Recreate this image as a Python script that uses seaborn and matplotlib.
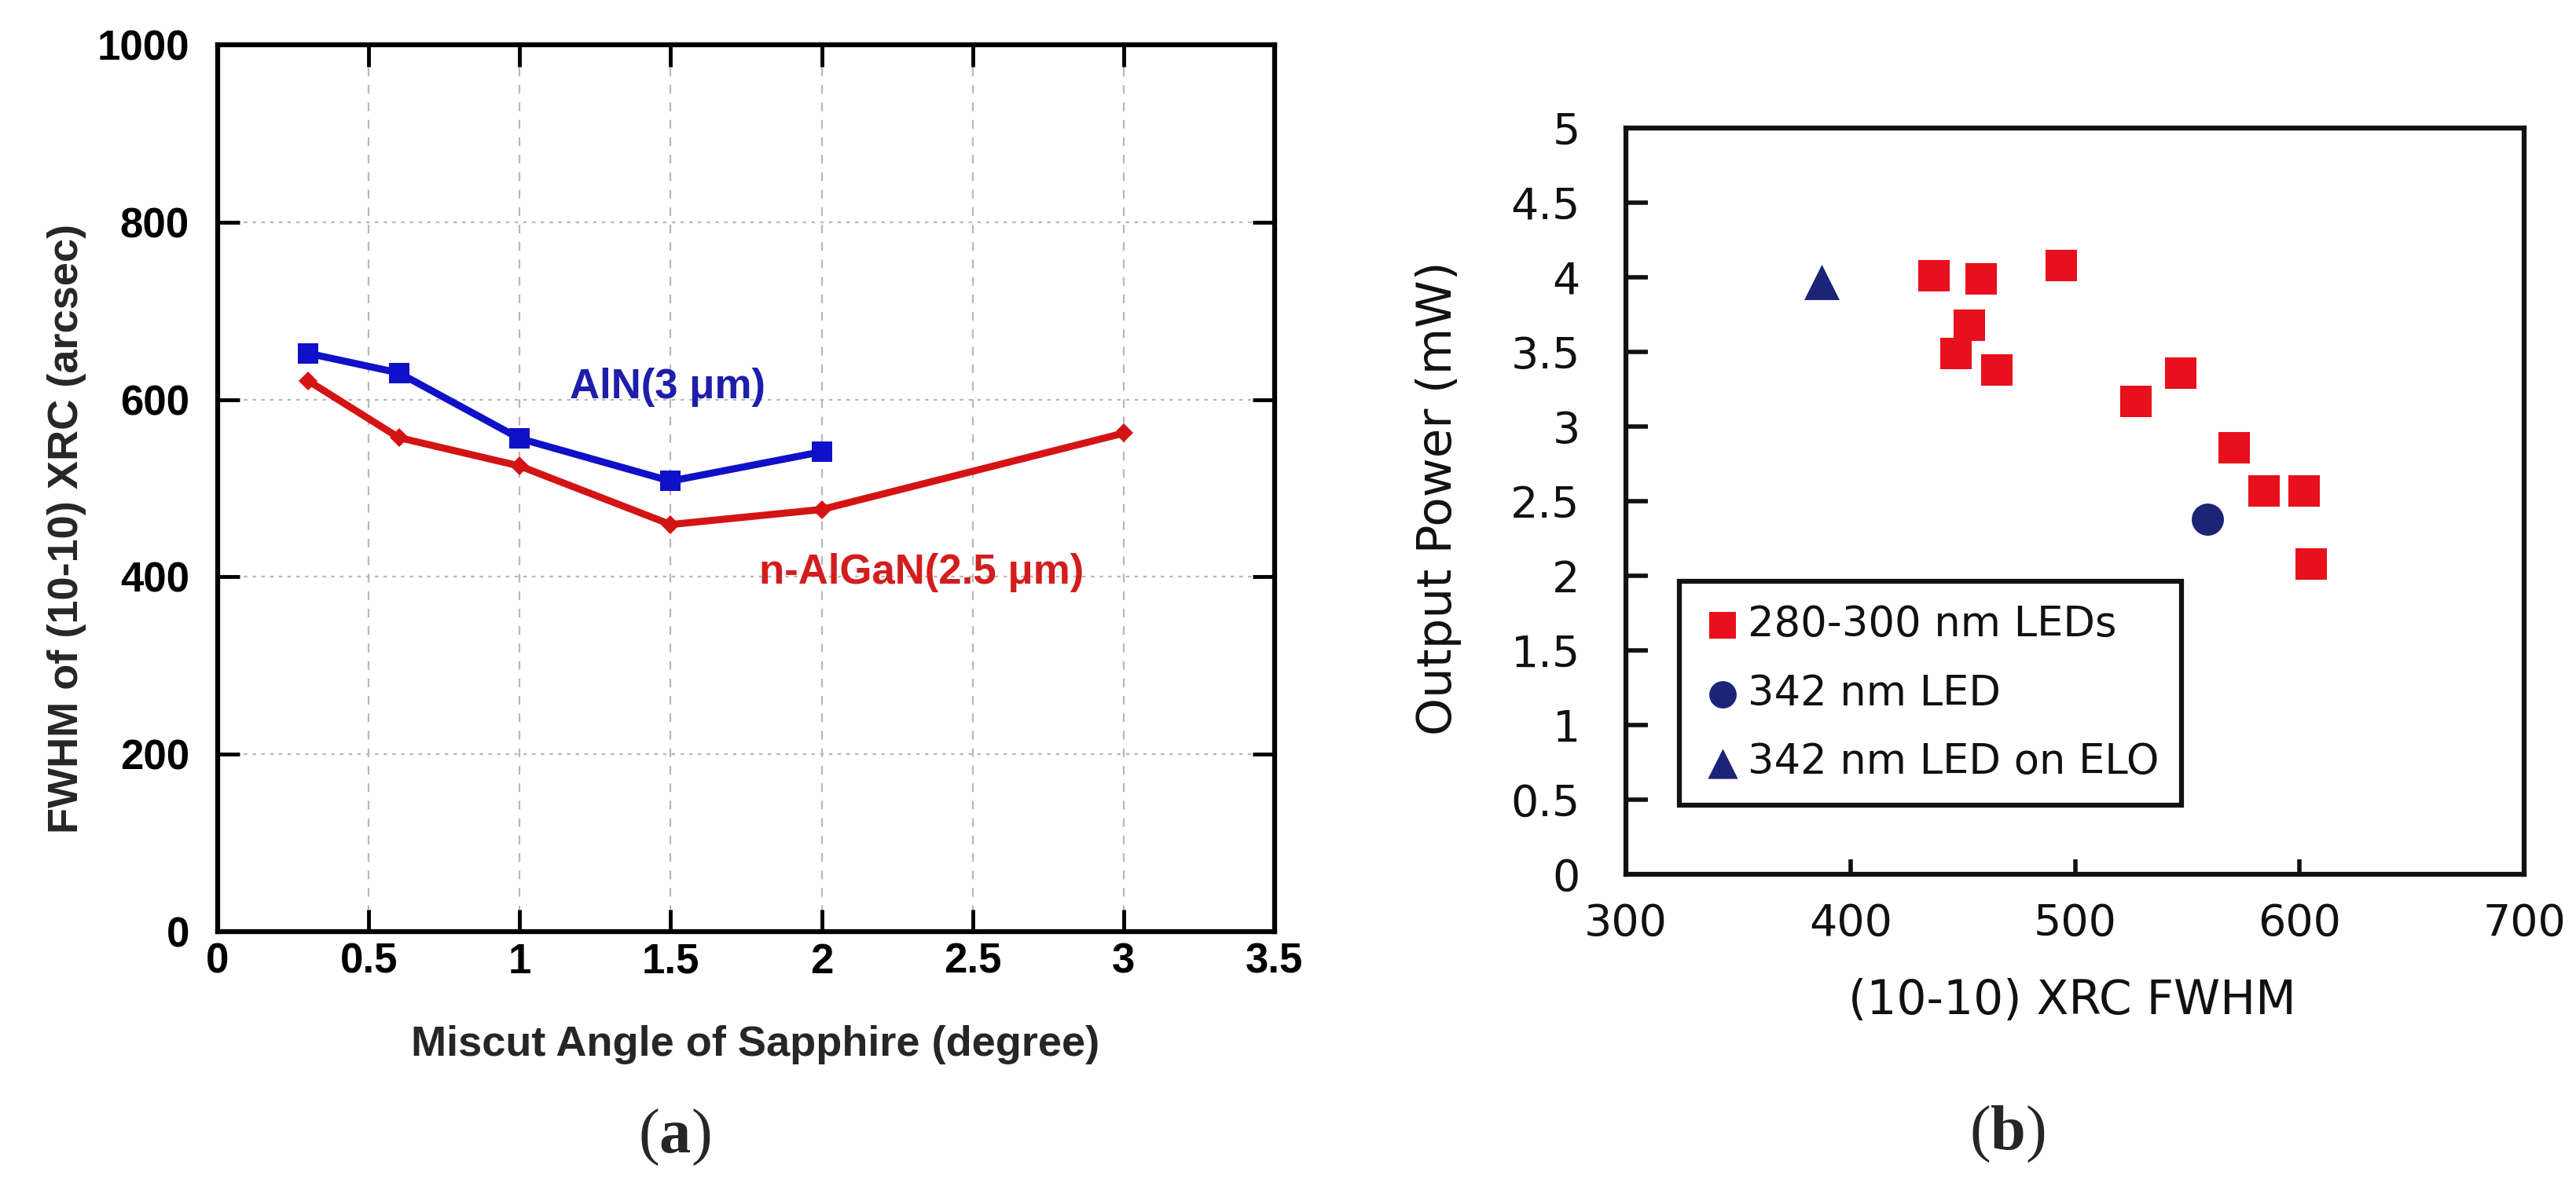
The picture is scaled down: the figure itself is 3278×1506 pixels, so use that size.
import matplotlib
matplotlib.use("Agg")
import matplotlib.pyplot as plt
import numpy as np
import pandas as pd
import seaborn as sns
from matplotlib.ticker import FuncFormatter, MultipleLocator

# (a) FWHM vs miscut angle
aln_angle = [0.3, 0.6, 1.0, 1.5, 2.0]
aln_fwhm = [652, 630, 556, 508, 541]
algan_angle = [0.3, 0.6, 1.0, 1.5, 2.0, 3.0]
algan_fwhm = [621, 557, 525, 459, 476, 562]

# (b) output power vs XRC FWHM
led_fwhm = [437, 458, 494, 453, 447, 465, 527, 547, 571, 584, 602, 605]
led_power = [4.01, 3.99, 4.08, 3.68, 3.49, 3.38, 3.17, 3.36, 2.86, 2.57, 2.57, 2.08]
led342_fwhm = [559]
led342_power = [2.38]
elo_fwhm = [387]
elo_power = [3.97]

sns.set_theme(style="ticks")
plt.rcParams["font.family"] = ["Liberation Sans", "DejaVu Sans"]
plt.rcParams["mathtext.fontset"] = "custom"
plt.rcParams["mathtext.bf"] = "Liberation Serif:bold"
plt.rcParams["mathtext.rm"] = "Liberation Serif"

fig = plt.figure(figsize=(32.78, 15.06), dpi=100)
ax1 = fig.add_axes([0.0845, 0.2125, 0.4103, 0.7497])
ax2 = fig.add_axes([0.6312, 0.261, 0.3487, 0.6308])

fmt = FuncFormatter(lambda v, p: f"{v:g}")

# ---- panel (a)
blue = "#1010C8"
red = "#D41414"
sns.lineplot(x=algan_angle, y=algan_fwhm, ax=ax1, color=red,
             marker="D", markersize=12, markeredgewidth=0, sort=False, zorder=3)
sns.lineplot(x=aln_angle, y=aln_fwhm, ax=ax1, color=blue,
             marker="s", markersize=19, markeredgewidth=0, sort=False, zorder=4)
for ln in ax1.get_lines():
    ln.set_linewidth(6.5)
    ln.set_solid_joinstyle("round")
ax1.set_xlim(0, 3.5)
ax1.set_ylim(0, 1000)
ax1.xaxis.set_major_locator(MultipleLocator(0.5))
ax1.yaxis.set_major_locator(MultipleLocator(200))
ax1.xaxis.set_major_formatter(fmt)
ax1.xaxis.grid(True, ls=(0, (5, 5)), color="#b8b8b8", lw=1.6)
ax1.yaxis.grid(True, ls=(0, (2, 3)), color="#b8b8b8", lw=1.6)
for s in ax1.spines.values():
    s.set_linewidth(4.5)
    s.set_color("black")
ax1.tick_params(axis="both", direction="in", length=20, width=3.5,
                top=True, right=True, labelsize=38, colors="black")
ax1.tick_params(axis="x", pad=10)
ax1.tick_params(axis="y", pad=26)
for lab in ax1.get_xticklabels() + ax1.get_yticklabels():
    lab.set_fontweight("bold")
ax1.set_xlabel("Miscut Angle of Sapphire (degree)", fontsize=39, fontweight="bold")
ax1.set_ylabel("FWHM of (10-10) XRC (arcsec)", fontsize=39, fontweight="bold")
ax1.xaxis.set_label_coords(0.509, -0.1275)
ax1.xaxis.label.set_va("center")
ax1.yaxis.set_label_coords(-0.1428, 0.454)
ax1.yaxis.label.set_va("center")
ax1.text(1.49, 614, "AlN(3 \u03bcm)", color="#1E1EAA", fontsize=38,
         fontweight="bold", ha="center", va="center")
ax1.text(2.33, 405, "n-AlGaN(2.5 \u03bcm)", color="#D21E1E", fontsize=38,
         fontweight="bold", ha="center", va="center")

# ---- panel (b)
sq_red = "#E8101C"
navy = "#1C2478"
sns.scatterplot(x=led_fwhm, y=led_power, ax=ax2, marker="s", s=870,
                color=sq_red, linewidth=0, label="280-300 nm LEDs", zorder=3)
sns.scatterplot(x=led342_fwhm, y=led342_power, ax=ax2, marker="o", s=870,
                color=navy, linewidth=0, label="342 nm LED", zorder=3)
sns.scatterplot(x=elo_fwhm, y=elo_power, ax=ax2, marker="^", s=1050,
                color=navy, linewidth=0, label="342 nm LED on ELO", zorder=3)
ax2.set_xlim(300, 700)
ax2.set_ylim(0, 5)
ax2.xaxis.set_major_locator(MultipleLocator(100))
ax2.yaxis.set_major_locator(MultipleLocator(0.5))
ax2.yaxis.set_major_formatter(fmt)
for s in ax2.spines.values():
    s.set_linewidth(4.5)
    s.set_color("#111111")
ax2.tick_params(axis="both", direction="in", width=4, labelsize=40,
                colors="#111111", labelfontfamily="DejaVu Sans")
ax2.tick_params(axis="y", length=20, pad=42)
ax2.tick_params(axis="x", length=14, pad=26)
ax2.set_xlabel("(10-10) XRC FWHM", fontsize=43, family="DejaVu Sans", color="#111111")
ax2.set_ylabel("Output Power (mW)", fontsize=44, family="DejaVu Sans", color="#111111")
ax2.xaxis.set_label_coords(0.497, -0.1705)
ax2.xaxis.label.set_va("center")
ax2.yaxis.set_label_coords(-0.209, 0.504)
ax2.yaxis.label.set_va("center")

leg = ax2.legend(loc="upper left", bbox_to_anchor=(0.059, 0.393), borderaxespad=0,
                 prop={"family": "DejaVu Sans", "size": 38}, fancybox=False,
                 framealpha=1, edgecolor="#111111", markerscale=0.85,
                 handletextpad=0.1, handlelength=1.0, labelspacing=0.68,
                 borderpad=0.55)
leg.get_frame().set_linewidth(4.5)
for t in leg.get_texts():
    t.set_color("#111111")

# panel captions
fig.text(858 / 3278, 1 - 1448 / 1506, r"($\mathbf{a}$)", fontsize=58,
         family="Liberation Serif", ha="center", va="center")
fig.text(2554 / 3278, 1 - 1444 / 1506, r"($\mathbf{b}$)", fontsize=58,
         family="Liberation Serif", ha="center", va="center")

fig.savefig("out.png", dpi=100, facecolor="white")
